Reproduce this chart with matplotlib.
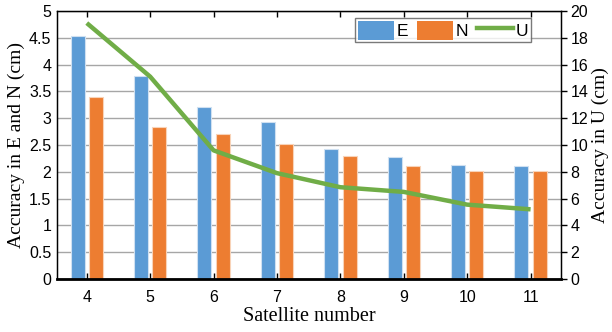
import numpy as np
import matplotlib
matplotlib.use("Agg")
import matplotlib.pyplot as plt
from matplotlib.patches import Patch
from matplotlib.lines import Line2D

satellites = [4, 5, 6, 7, 8, 9, 10, 11]
acc_e = [4.53, 3.78, 3.21, 2.92, 2.43, 2.28, 2.12, 2.10]
acc_n = [3.40, 2.83, 2.70, 2.51, 2.29, 2.10, 2.02, 2.01]
acc_u = [19.1, 15.1, 9.6, 7.9, 6.85, 6.5, 5.55, 5.2]

c_e = "#5B9BD5"
c_n = "#ED7D31"
c_u = "#70AD47"

sans = "Liberation Sans"
serif = "Liberation Serif"

fig = plt.figure(figsize=(6.12, 3.32), dpi=100)
ax = fig.add_axes([0.0931, 0.1596, 0.8236, 0.8073])
x = np.array(satellites, dtype=float)
w = 0.22
ax.bar(x - 0.145, acc_e, width=w, color=c_e, edgecolor="#cfe0f1", linewidth=0.8, zorder=2)
ax.bar(x + 0.145, acc_n, width=w, color=c_n, edgecolor="#f8d3b8", linewidth=0.8, zorder=2)

ax.set_xlim(3.53, 11.48)
ax.set_ylim(0, 5)
ax.set_yticks(np.arange(0, 5.01, 0.5))
ax.set_yticklabels(["0", "0.5", "1", "1.5", "2", "2.5", "3", "3.5", "4", "4.5", "5"])
ax.set_xticks(satellites)
ax.yaxis.grid(True, color="#a6a6a6", linewidth=1.0, zorder=0)
ax.set_axisbelow(True)
ax.tick_params(axis="x", direction="in", top=True, length=4, width=1, pad=8)
ax.tick_params(axis="y", direction="in", length=0, pad=4)
for lab in ax.get_xticklabels() + ax.get_yticklabels():
    lab.set_fontfamily(sans)
    lab.set_fontsize(11.5)
for s in ax.spines.values():
    s.set_linewidth(1.0)
ax.spines["bottom"].set_linewidth(2.0)

ax.set_xlabel("Satellite number", fontfamily=serif, fontsize=14.5, labelpad=1)
ax.set_ylabel("Accuracy in E and N (cm)", fontfamily=serif, fontsize=14, labelpad=3)

ax2 = ax.twinx()
ax2.plot(x, acc_u, color=c_u, linewidth=3.2, solid_capstyle="butt", zorder=3)
ax2.set_ylim(0, 20)
ax2.set_yticks(np.arange(0, 20.1, 2))
ax2.tick_params(axis="y", direction="out", length=4, width=1, pad=3)
for lab in ax2.get_yticklabels():
    lab.set_fontfamily(sans)
    lab.set_fontsize(11.5)
ax2.set_ylabel("Accuracy in U (cm)", fontfamily=serif, fontsize=14, labelpad=2)

handles = [Patch(facecolor=c_e, edgecolor="none"),
           Patch(facecolor=c_n, edgecolor="none"),
           Line2D([0], [0], color=c_u, linewidth=3.2)]
leg = ax2.legend(handles, ["E", "N", "U"], ncol=3, loc="upper right",
                 bbox_to_anchor=(0.941, 0.973), prop={"family": sans, "size": 12.5},
                 handlelength=2.1, handleheight=1.3, handletextpad=0.15,
                 columnspacing=0.5, borderpad=0.15, borderaxespad=0.0,
                 frameon=True, fancybox=False, edgecolor="#595959")
leg.get_frame().set_linewidth(1.0)

fig.savefig("out.png", dpi=100)
